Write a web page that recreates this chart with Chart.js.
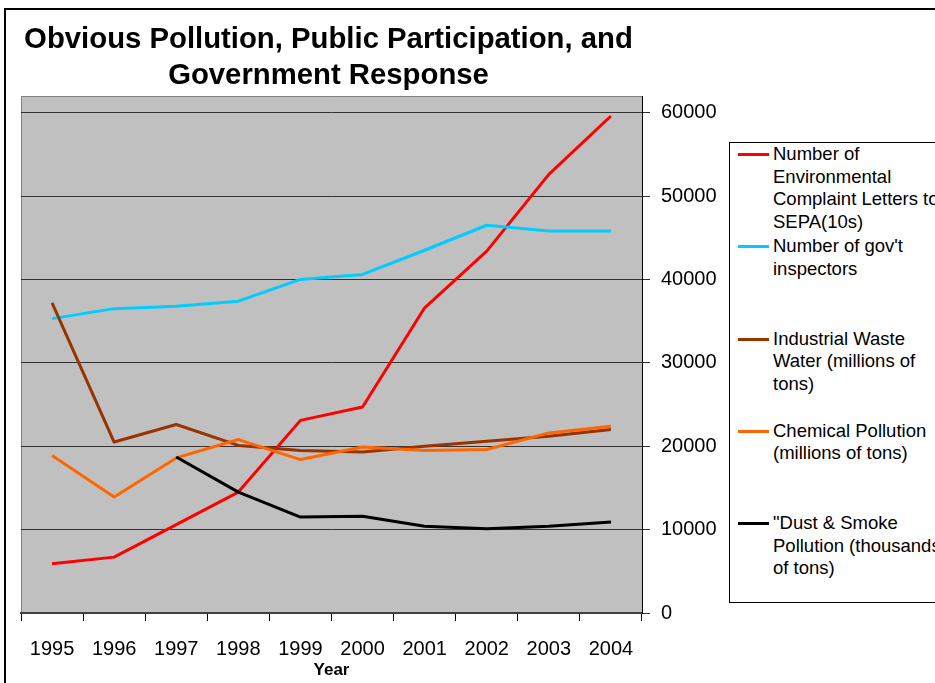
<!DOCTYPE html>
<html>
<head>
<meta charset="utf-8">
<script src="https://cdn.jsdelivr.net/npm/chart.js@4/dist/chart.umd.min.js"></script>
<style>
  html, body { margin: 0; padding: 0; width: 935px; height: 683px; overflow: hidden; background: #fff; }
  #frame { position: absolute; left: 4px; top: 8px; width: 2000px; height: 2000px; border: 2px solid #000; box-sizing: border-box; }
  #chart { position: absolute; left: 0; top: 0; }
  #legend { position: absolute; left: 729px; top: 142px; width: 400px; height: 461px; border: 1px solid #000; box-sizing: border-box; background: #fff; font-family: "Liberation Sans", Arial, sans-serif; font-size: 18.5px; color: #000; }
  .entry { position: absolute; left: 0; white-space: pre; line-height: 22.5px; }
  .entry .swatch { position: absolute; left: 8px; top: 10px; width: 31px; height: 3px; }
  .entry .text { position: absolute; left: 43px; top: 0; }
</style>
</head>
<body>
<div id="frame"></div>
<canvas id="chart" width="935" height="683"></canvas>
<div id="legend"></div>
<script>
// Years along the category axis
const years = ['1995', '1996', '1997', '1998', '1999', '2000', '2001', '2002', '2003', '2004'];

// Right-hand value axis tick values
const valueTicks = [0, 10000, 20000, 30000, 40000, 50000, 60000];

// Series values, one per year
const complaintLetters = [5900, 6700, 10600, 14500, 23100, 24700, 36600, 43400, 52600, 59600];
const inspectors       = [35300, 36500, 36800, 37400, 40000, 40600, 43500, 46500, 45800, 45800];
const wasteWater       = [37200, 20500, 22600, 20100, 19500, 19300, 20000, 20600, 21200, 22000];
const chemicalPollution = [18900, 13900, 18600, 20800, 18400, 19900, 19500, 19600, 21600, 22400];
const dustSmoke        = [null, null, 18700, 14500, 11500, 11600, 10400, 10100, 10400, 10900];

// Legend names (line breaks follow the legend box wrapping)
const seriesNames = [
  'Number of\nEnvironmental\nComplaint Letters to\nSEPA(10s)',
  'Number of gov\'t\ninspectors',
  'Industrial Waste\nWater (millions of\ntons)',
  'Chemical Pollution\n(millions of tons)',
  '"Dust & Smoke\nPollution (thousands\nof tons)'
];

const titleLines = ['Obvious Pollution, Public Participation, and', 'Government Response'];

const FONT = '"Liberation Sans", Arial, sans-serif';

function lineSeries(label, data, color, order) {
  return {
    label: label,
    data: data,
    borderColor: color,
    backgroundColor: color,
    borderWidth: 3,
    pointRadius: 0,
    pointHoverRadius: 0,
    tension: 0,
    fill: false,
    spanGaps: false,
    borderJoinStyle: 'round',
    order: order
  };
}

// Grey plotting area with its thin border, painted before the grid
const plotBackground = {
  id: 'plotBackground',
  beforeDraw(chart) {
    const { ctx, chartArea: a } = chart;
    ctx.save();
    ctx.fillStyle = '#C0C0C0';
    ctx.fillRect(a.left, a.top, a.right - a.left, a.bottom - a.top);
    ctx.strokeStyle = '#808080';
    ctx.lineWidth = 1;
    ctx.beginPath();
    ctx.moveTo(a.left + 0.5, a.bottom);
    ctx.lineTo(a.left + 0.5, a.top + 0.5);
    ctx.lineTo(a.right, a.top + 0.5);
    ctx.stroke();
    ctx.restore();
  }
};

// Two-line chart title centred over the plotting area
const plotTitle = {
  id: 'plotTitle',
  afterDraw(chart) {
    const { ctx, chartArea: a } = chart;
    const cx = (a.left + a.right) / 2 - 3;
    ctx.save();
    ctx.fillStyle = '#000';
    ctx.font = 'bold 29.3px ' + FONT;
    ctx.textAlign = 'center';
    ctx.textBaseline = 'alphabetic';
    ctx.fillText(titleLines[0], cx, 48);
    ctx.fillText(titleLines[1], cx, 84);
    ctx.restore();
  }
};

// Legend box built from the chart's datasets
const htmlLegend = {
  id: 'htmlLegend',
  afterUpdate(chart) {
    const box = document.getElementById('legend');
    box.innerHTML = '';
    chart.data.datasets.forEach((ds, i) => {
      const entry = document.createElement('div');
      entry.className = 'entry';
      entry.style.top = (i * 92.25) + 'px';
      const sw = document.createElement('div');
      sw.className = 'swatch';
      sw.style.background = ds.borderColor;
      const tx = document.createElement('div');
      tx.className = 'text';
      tx.textContent = ds.label;
      entry.appendChild(sw);
      entry.appendChild(tx);
      box.appendChild(entry);
    });
  }
};

new Chart(document.getElementById('chart'), {
  type: 'line',
  data: {
    labels: years,
    datasets: [
      lineSeries(seriesNames[0], complaintLetters, '#FF0000', 5),
      lineSeries(seriesNames[1], inspectors, '#00CCFF', 4),
      lineSeries(seriesNames[2], wasteWater, '#993300', 3),
      lineSeries(seriesNames[3], chemicalPollution, '#FF6600', 2),
      lineSeries(seriesNames[4], dustSmoke, '#000000', 1)
    ]
  },
  options: {
    responsive: false,
    animation: false,
    events: [],
    layout: { padding: { left: 21, top: 96, right: 213, bottom: 2 } },
    plugins: {
      legend: { display: false },
      title: { display: false },
      tooltip: { enabled: false }
    },
    scales: {
      x: {
        type: 'category',
        offset: true,
        grid: { display: true, drawOnChartArea: false, offset: true, tickLength: 8, color: '#000', lineWidth: 1 },
        border: { display: true, color: '#404040', width: 2 },
        ticks: { color: '#000', font: { family: FONT, size: 20 }, padding: 16, maxRotation: 0, autoSkip: false },
        title: { display: true, text: 'Year', color: '#000', font: { family: FONT, size: 17, weight: 'bold' }, padding: { top: 0, bottom: 0 } },
        afterFit(axis) { axis.height = 68; }
      },
      y: {
        position: 'right',
        min: 0,
        max: 62000,
        afterBuildTicks(axis) { axis.ticks = valueTicks.map(v => ({ value: v })); },
        grid: { color: '#333', lineWidth: 1, tickLength: 8 },
        border: { display: true, color: '#000', width: 1 },
        ticks: { color: '#000', font: { family: FONT, size: 20 }, padding: 11, callback: v => String(v) },
        afterFit(axis) { axis.width = 80; }
      }
    }
  },
  plugins: [plotBackground, plotTitle, htmlLegend]
});
</script>
</body>
</html>
